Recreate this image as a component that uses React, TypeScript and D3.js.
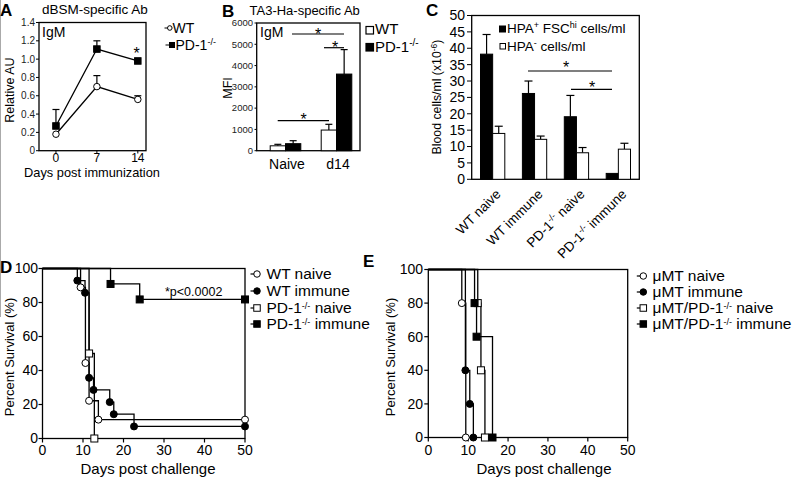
import React from 'react';
import * as d3 from 'd3';

const FONT = '"Liberation Sans", Arial, Helvetica, sans-serif';

// ---------- Panel A ----------
const aDays = [0, 7, 14];
const aDayLabels = ['0', '7', '14'];
const aWT = [0.18, 0.7, 0.56];
const aWTErr = [0, 0.12, 0.04];
const aPD1 = [0.27, 1.11, 0.98];
const aPD1Err = [0.18, 0.09, 0];
const aYTicks = [0, 0.2, 0.4, 0.6, 0.8, 1.0, 1.2, 1.4];
const aYTickLabels = ['0', '0.2', '0.4', '0.6', '0.8', '1.0', '1.2', '1.4'];

// ---------- Panel B ----------
const bGroups = ['Naive', 'd14'];
const bWT = [230, 970];
const bWTErr = [70, 270];
const bPD1 = [330, 3600];
const bPD1Err = [140, 1150];
const bYTicks = [0, 1000, 2000, 3000, 4000, 5000, 6000];

// ---------- Panel C ----------
const cGroups = ['WT naive', 'WT immune', 'PD-1 naive', 'PD-1 immune'];
const cHpaPos = [38.2, 26.2, 19.1, 1.8];
const cHpaPosErr = [6.0, 3.8, 6.5, 0];
const cHpaNeg = [14.0, 12.2, 8.1, 9.2];
const cHpaNegErr = [2.2, 1.0, 1.6, 1.8];
const cYTicks = [0, 5, 10, 15, 20, 25, 30, 35, 40, 45, 50];

// ---------- Panel D ----------
const survXTicks = [0, 10, 20, 30, 40, 50];
const survYTicks = [0, 20, 40, 60, 80, 100];
const dWtNaiveDays = [9.4, 10.6, 11.5, 13.8, 50];
const dWtNaivePct = [88.9, 44.4, 22.2, 11.1, 11.1];
const dWtImmuneDays = [8.6, 10.5, 11.5, 12.6, 16.6, 17.6, 22.6, 50];
const dWtImmunePct = [92.9, 85.7, 35.7, 28.6, 21.4, 14.3, 7.1, 7.1];
const dPdNaiveDays = [11.5, 12.8];
const dPdNaivePct = [50, 0];
const dPdImmuneDays = [16.8, 24, 50];
const dPdImmunePct = [90.9, 81.8, 81.8];

// ---------- Panel E ----------
const eMuNaiveDays = [8.4, 9.4];
const eMuNaivePct = [80, 0];
const eMuImmuneDays = [9.3, 10.4, 11.3];
const eMuImmunePct = [40, 20, 0];
const eMuPdNaiveDays = [12.4, 13.2, 14.2];
const eMuPdNaivePct = [80, 40, 0];
const eMuPdImmuneDays = [11.6, 12.1, 16.1];
const eMuPdImmunePct = [80, 60, 0];

type Part = [string, boolean];

function Rich({ parts, supSize, shift }: { parts: Part[]; supSize: number; shift: number }) {
  let inSup = false;
  return (
    <>
      {parts.map(([t, sup], i) => {
        let dy: number | undefined = undefined;
        if (sup && !inSup) dy = -shift;
        if (!sup && inSup) dy = shift;
        inSup = sup;
        return (
          <tspan key={i} dy={dy} fontSize={sup ? supSize : undefined} style={{ whiteSpace: 'pre' }}>
            {t}
          </tspan>
        );
      })}
    </>
  );
}

type MType = 'oc' | 'fc' | 'os' | 'fs';
function Marker({ t, x, y, s = 7 }: { t: MType; x: number; y: number; s?: number }) {
  const fill = t === 'fc' || t === 'fs' ? '#000' : '#fff';
  if (t === 'oc' || t === 'fc')
    return <circle cx={x} cy={y} r={s / 2} fill={fill} stroke="#000" strokeWidth={1} />;
  return <rect x={x - s / 2} y={y - s / 2} width={s} height={s} fill={fill} stroke="#000" strokeWidth={1} />;
}

function Star({ x, y }: { x: number; y: number }) {
  return (
    <text x={x} y={y + 9} textAnchor="middle" fontSize={16}>
      *
    </text>
  );
}

const stepLine = d3.line<[number, number]>().curve(d3.curveStepAfter);

function Survival({
  xs,
  ys,
  series,
  ms,
}: {
  xs: d3.ScaleLinear<number, number>;
  ys: d3.ScaleLinear<number, number>;
  series: { days: number[]; pct: number[]; t: MType }[];
  ms: number;
}) {
  return (
    <g>
      {series.map((s, i) => {
        const pts: [number, number][] = [[xs(0), ys(100)]].concat(
          s.days.map((d, j) => [xs(d), ys(s.pct[j])] as [number, number])
        ) as [number, number][];
        return <path key={i} d={stepLine(pts) || ''} fill="none" stroke="#000" strokeWidth={1.3} />;
      })}
      {series.map((s, i) =>
        s.days.map((d, j) => <Marker key={`${i}-${j}`} t={s.t} x={xs(d)} y={ys(s.pct[j])} s={ms} />)
      )}
    </g>
  );
}

function SurvAxes({
  xs,
  ys,
  labelRight,
}: {
  xs: d3.ScaleLinear<number, number>;
  ys: d3.ScaleLinear<number, number>;
  labelRight: number;
}) {
  const [x0, x1] = xs.range();
  const [yb, yt] = ys.range();
  return (
    <g>
      <rect x={x0} y={yt} width={x1 - x0} height={yb - yt} fill="none" stroke="#000" strokeWidth={1.3} />
      {survYTicks.map((t) => (
        <g key={t}>
          <line x1={x0 - 4} x2={x0} y1={ys(t)} y2={ys(t)} stroke="#000" strokeWidth={1.2} />
          <text x={labelRight} y={ys(t)} dy="0.35em" textAnchor="end" fontSize={14}>
            {t}
          </text>
        </g>
      ))}
      {survXTicks.map((t) => (
        <g key={t}>
          <line x1={xs(t)} x2={xs(t)} y1={yb} y2={yb + 4} stroke="#000" strokeWidth={1.2} />
          <text x={xs(t)} y={455} textAnchor="middle" fontSize={14}>
            {t}
          </text>
        </g>
      ))}
    </g>
  );
}

function LegendRow({ x, y, t, parts, tx }: { x: number; y: number; t: MType; parts: Part[]; tx: number }) {
  return (
    <g>
      <line x1={x - 6.5} x2={x} y1={y - 5} y2={y - 5} stroke="#000" strokeWidth={1.2} />
      <Marker t={t} x={x} y={y - 5} s={6.5} />
      <text x={tx} y={y} fontSize={15.5}>
        <Rich parts={parts} supSize={9} shift={4.5} />
      </text>
    </g>
  );
}

export default function App() {
  // Panel A scales
  const xA = d3.scaleLinear().domain([-2.9, 15.4]).range([39, 146]);
  const yA = d3.scaleLinear().domain([0, 1.4]).range([150.7, 22.5]);
  const lineA = d3
    .line<number>()
    .x((_, i) => xA(aDays[i]))
    .y((v) => yA(v));

  // Panel B scales
  const xB = d3.scaleBand<string>().domain(bGroups).range([260, 362]).paddingInner(0.4).paddingOuter(0.2);
  const yB = d3.scaleLinear().domain([0, 6000]).range([150.7, 23]);
  const bwB = xB.bandwidth() / 2;

  // Panel C scales
  const xC = d3.scaleBand<string>().domain(cGroups).range([471.7, 639.3]).paddingInner(0.42).paddingOuter(0.21);
  const yC = d3.scaleLinear().domain([0, 50]).range([179.3, 15.5]);
  const bwC = xC.bandwidth() / 2;

  // Panel D / E scales
  const xD = d3.scaleLinear().domain([0, 50]).range([42.5, 245]);
  const yD = d3.scaleLinear().domain([0, 100]).range([438.5, 268.5]);
  const xE = d3.scaleLinear().domain([0, 50]).range([428.3, 627.7]);
  const yE = d3.scaleLinear().domain([0, 100]).range([437.5, 269.5]);

  const cLabelParts: Part[][] = [
    [['WT naive', false]],
    [['WT immune', false]],
    [['PD-1', false], ['-/-', true], [' naive', false]],
    [['PD-1', false], ['-/-', true], [' immune', false]],
  ];

  return (
    <svg
      width={800}
      height={490}
      style={{ position: 'absolute', left: 0, top: 0, background: '#fff' }}
      fontFamily={FONT}
      fill="#000"
    >
      <rect x={0} y={0} width={800} height={490} fill="#fff" />
      <line x1={0.5} x2={0.5} y1={0} y2={317} stroke="#aaa" strokeWidth={1} />

      {/* ================= Panel A ================= */}
      <text x={0} y={16} fontSize={17} fontWeight="bold">A</text>
      <text x={42} y={14} fontSize={13.5}>dBSM-specific Ab</text>
      <rect x={39} y={22.5} width={107} height={128.2} fill="none" stroke="#000" strokeWidth={1.3} />
      <text x={42} y={36.5} fontSize={14}>IgM</text>
      {aYTicks.map((t, i) => (
        <g key={t}>
          <line x1={36} x2={39} y1={yA(t)} y2={yA(t)} stroke="#000" />
          <text x={35} y={yA(t)} dy="0.35em" textAnchor="end" fontSize={10} fill="#222">
            {aYTickLabels[i]}
          </text>
        </g>
      ))}
      {aDays.map((d, i) => (
        <g key={d}>
          <line x1={xA(d)} x2={xA(d)} y1={150.7} y2={153.5} stroke="#000" />
          <text x={xA(d)} y={162} textAnchor="middle" fontSize={12}>
            {aDayLabels[i]}
          </text>
        </g>
      ))}
      <text x={92} y={177} textAnchor="middle" fontSize={12.8}>Days post immunization</text>
      <text transform={`translate(14,90) rotate(-90)`} textAnchor="middle" fontSize={12.5}>Relative AU</text>
      {/* error bars */}
      {aDays.map((d, i) => (
        <g key={`ea${i}`} stroke="#000" strokeWidth={1.2}>
          {aWTErr[i] > 0 && (
            <>
              <line x1={xA(d)} x2={xA(d)} y1={yA(aWT[i])} y2={yA(aWT[i] + aWTErr[i])} />
              <line x1={xA(d) - 3.5} x2={xA(d) + 3.5} y1={yA(aWT[i] + aWTErr[i])} y2={yA(aWT[i] + aWTErr[i])} />
            </>
          )}
          {aPD1Err[i] > 0 && (
            <>
              <line x1={xA(d)} x2={xA(d)} y1={yA(aPD1[i])} y2={yA(aPD1[i] + aPD1Err[i])} />
              <line x1={xA(d) - 3.5} x2={xA(d) + 3.5} y1={yA(aPD1[i] + aPD1Err[i])} y2={yA(aPD1[i] + aPD1Err[i])} />
            </>
          )}
        </g>
      ))}
      <path d={lineA(aWT) || ''} fill="none" stroke="#000" strokeWidth={1.3} />
      <path d={lineA(aPD1) || ''} fill="none" stroke="#000" strokeWidth={1.3} />
      {aDays.map((d, i) => (
        <g key={`ma${i}`}>
          <Marker t="oc" x={xA(d)} y={yA(aWT[i])} s={6.5} />
          <Marker t="fs" x={xA(d)} y={yA(aPD1[i])} s={6.5} />
        </g>
      ))}
      <Star x={136.7} y={49.5} />
      {/* legend A */}
      <line x1={164.5} x2={167.5} y1={28} y2={28} stroke="#000" />
      <Marker t="oc" x={169.8} y={28} s={4.6} />
      <text x={172.5} y={32.5} fontSize={14}>WT</text>
      <line x1={165.5} x2={170} y1={45} y2={45} stroke="#000" />
      <Marker t="fs" x={172} y={45} s={5} />
      <text x={175.5} y={50} fontSize={14}>
        <Rich parts={[['PD-1', false], ['-/-', true]]} supSize={9} shift={5} />
      </text>

      {/* ================= Panel B ================= */}
      <text x={222} y={16.5} fontSize={17} fontWeight="bold">B</text>
      <text x={249.5} y={15} fontSize={13}>TA3-Ha-specific Ab</text>
      <rect x={256.7} y={23} width={103.3} height={127.7} fill="none" stroke="#000" strokeWidth={1.3} />
      <text x={260} y={36.5} fontSize={14}>IgM</text>
      {bYTicks.map((t) => (
        <g key={t}>
          <line x1={254.5} x2={256.7} y1={yB(t)} y2={yB(t)} stroke="#000" />
          <text x={253} y={yB(t)} dy="0.35em" textAnchor="end" fontSize={9.5} fill="#222">
            {t}
          </text>
        </g>
      ))}
      <text transform={`translate(232,88) rotate(-90)`} textAnchor="middle" fontSize={12.5}>MFI</text>
      {bGroups.map((g, i) => {
        const x0 = xB(g) as number;
        const c = x0 + xB.bandwidth() / 2;
        return (
          <g key={g}>
            {[
              { v: bWT[i], e: bWTErr[i], x: x0, fill: '#fff' },
              { v: bPD1[i], e: bPD1Err[i], x: x0 + bwB, fill: '#000' },
            ].map((b, k) => (
              <g key={k}>
                <line x1={b.x + bwB / 2} x2={b.x + bwB / 2} y1={yB(b.v)} y2={yB(b.v + b.e)} stroke="#000" strokeWidth={1.2} />
                <line x1={b.x + bwB / 2 - 3.5} x2={b.x + bwB / 2 + 3.5} y1={yB(b.v + b.e)} y2={yB(b.v + b.e)} stroke="#000" strokeWidth={1.2} />
                <rect x={b.x} y={yB(b.v)} width={bwB} height={yB(0) - yB(b.v)} fill={b.fill} stroke="#000" strokeWidth={1} />
              </g>
            ))}
            <text x={c + 1.5} y={168.5} textAnchor="middle" fontSize={14}>
              {g}
            </text>
          </g>
        );
      })}
      <line x1={292} x2={344} y1={34} y2={34} stroke="#000" strokeWidth={1.2} />
      <Star x={318} y={31} />
      <line x1={324} x2={344} y1={47.7} y2={47.7} stroke="#000" strokeWidth={1.2} />
      <Star x={335} y={43.5} />
      <line x1={277.7} x2={329} y1={120.7} y2={120.7} stroke="#000" strokeWidth={1.2} />
      <Star x={303.5} y={116} />
      {/* legend B */}
      <rect x={366} y={26.5} width={7.5} height={7.5} fill="#fff" stroke="#000" strokeWidth={1.2} />
      <text x={375} y={34.3} fontSize={15}>WT</text>
      <rect x={366} y={43.5} width={7.5} height={7.5} fill="#000" stroke="#000" strokeWidth={1.2} />
      <text x={375} y={51.5} fontSize={15}>
        <Rich parts={[['PD-1', false], ['-/-', true]]} supSize={10} shift={6} />
      </text>

      {/* ================= Panel C ================= */}
      <text x={426} y={16} fontSize={17} fontWeight="bold">C</text>
      <rect x={471.7} y={15.5} width={167.6} height={163.8} fill="none" stroke="#000" strokeWidth={1.3} />
      {cYTicks.map((t) => (
        <g key={t}>
          <line x1={467} x2={471.7} y1={yC(t)} y2={yC(t)} stroke="#000" />
          <text x={465} y={yC(t)} dy="0.35em" textAnchor="end" fontSize={14}>
            {t}
          </text>
        </g>
      ))}
      <text transform={`translate(441,97) rotate(-90)`} textAnchor="middle" fontSize={12.3}>
        <Rich parts={[['Blood cells/ml (x10', false], ['-6', true], [')', false]]} supSize={8.5} shift={4.5} />
      </text>
      {cGroups.map((g, i) => {
        const x0 = xC(g) as number;
        const c = x0 + xC.bandwidth() / 2;
        return (
          <g key={g}>
            {[
              { v: cHpaPos[i], e: cHpaPosErr[i], x: x0, fill: '#000' },
              { v: cHpaNeg[i], e: cHpaNegErr[i], x: x0 + bwC, fill: '#fff' },
            ].map((b, k) => (
              <g key={k}>
                {b.e > 0 && (
                  <>
                    <line x1={b.x + bwC / 2} x2={b.x + bwC / 2} y1={yC(b.v)} y2={yC(b.v + b.e)} stroke="#000" strokeWidth={1.2} />
                    <line x1={b.x + bwC / 2 - 4} x2={b.x + bwC / 2 + 4} y1={yC(b.v + b.e)} y2={yC(b.v + b.e)} stroke="#000" strokeWidth={1.2} />
                  </>
                )}
                <rect x={b.x} y={yC(b.v)} width={bwC} height={yC(0) - yC(b.v)} fill={b.fill} stroke="#000" strokeWidth={1} />
              </g>
            ))}
            <text transform={`translate(${c + 9},195) rotate(-45)`} textAnchor="end" fontSize={13.5}>
              <Rich parts={cLabelParts[i]} supSize={9} shift={5} />
            </text>
          </g>
        );
      })}
      <line x1={528} x2={612} y1={71} y2={71} stroke="#000" strokeWidth={1.2} />
      <Star x={566} y={64} />
      <line x1={571} x2={612} y1={89.3} y2={89.3} stroke="#000" strokeWidth={1.2} />
      <Star x={592} y={84} />
      {/* legend C */}
      <rect x={499.5} y={26} width={6} height={6} fill="#000" stroke="#000" />
      <text x={507} y={32.5} fontSize={13.5}>
        <Rich
          parts={[['HPA', false], ['+', true], [' FSC', false], ['hi', true], [' cells/ml', false]]}
          supSize={9}
          shift={5}
        />
      </text>
      <rect x={500} y={43.5} width={5.5} height={5.5} fill="#fff" stroke="#000" />
      <text x={507} y={50.5} fontSize={13.5}>
        <Rich parts={[['HPA', false], ['-', true], [' cells/ml', false]]} supSize={9} shift={5} />
      </text>

      {/* ================= Panel D ================= */}
      <text x={0} y={273} fontSize={17} fontWeight="bold">D</text>
      <SurvAxes xs={xD} ys={yD} labelRight={38} />
      <text x={148} y={474} textAnchor="middle" fontSize={15}>Days post challenge</text>
      <text transform={`translate(14,357) rotate(-90)`} textAnchor="middle" fontSize={13}>Percent Survival (%)</text>
      <Survival
        xs={xD}
        ys={yD}
        ms={7}
        series={[
          { days: dWtNaiveDays, pct: dWtNaivePct, t: 'oc' },
          { days: dWtImmuneDays, pct: dWtImmunePct, t: 'fc' },
          { days: dPdNaiveDays, pct: dPdNaivePct, t: 'os' },
          { days: dPdImmuneDays, pct: dPdImmunePct, t: 'fs' },
        ]}
      />
      <text x={165} y={296} fontSize={12.5}>*p&lt;0.0002</text>
      <LegendRow x={257} y={279} t="oc" tx={266.5} parts={[['WT naive', false]]} />
      <LegendRow x={257} y={296} t="fc" tx={266.5} parts={[['WT immune', false]]} />
      <LegendRow x={257} y={313} t="os" tx={266.5} parts={[['PD-1', false], ['-/-', true], [' naive', false]]} />
      <LegendRow x={257} y={329} t="fs" tx={266.5} parts={[['PD-1', false], ['-/-', true], [' immune', false]]} />

      {/* ================= Panel E ================= */}
      <text x={363} y={266.5} fontSize={17} fontWeight="bold">E</text>
      <SurvAxes xs={xE} ys={yE} labelRight={423} />
      <text x={544} y={474} textAnchor="middle" fontSize={15}>Days post challenge</text>
      <text transform={`translate(395,357) rotate(-90)`} textAnchor="middle" fontSize={13}>Percent Survival (%)</text>
      <Survival
        xs={xE}
        ys={yE}
        ms={7}
        series={[
          { days: eMuNaiveDays, pct: eMuNaivePct, t: 'oc' },
          { days: eMuImmuneDays, pct: eMuImmunePct, t: 'fc' },
          { days: eMuPdNaiveDays, pct: eMuPdNaivePct, t: 'os' },
          { days: eMuPdImmuneDays, pct: eMuPdImmunePct, t: 'fs' },
        ]}
      />
      <LegendRow x={643.3} y={281} t="oc" tx={652.5} parts={[['μMT naive', false]]} />
      <LegendRow x={643.3} y={297} t="fc" tx={652.5} parts={[['μMT immune', false]]} />
      <LegendRow x={643.3} y={313} t="os" tx={652.5} parts={[['μMT/PD-1', false], ['-/-', true], [' naive', false]]} />
      <LegendRow x={643.3} y={329} t="fs" tx={652.5} parts={[['μMT/PD-1', false], ['-/-', true], [' immune', false]]} />
    </svg>
  );
}
